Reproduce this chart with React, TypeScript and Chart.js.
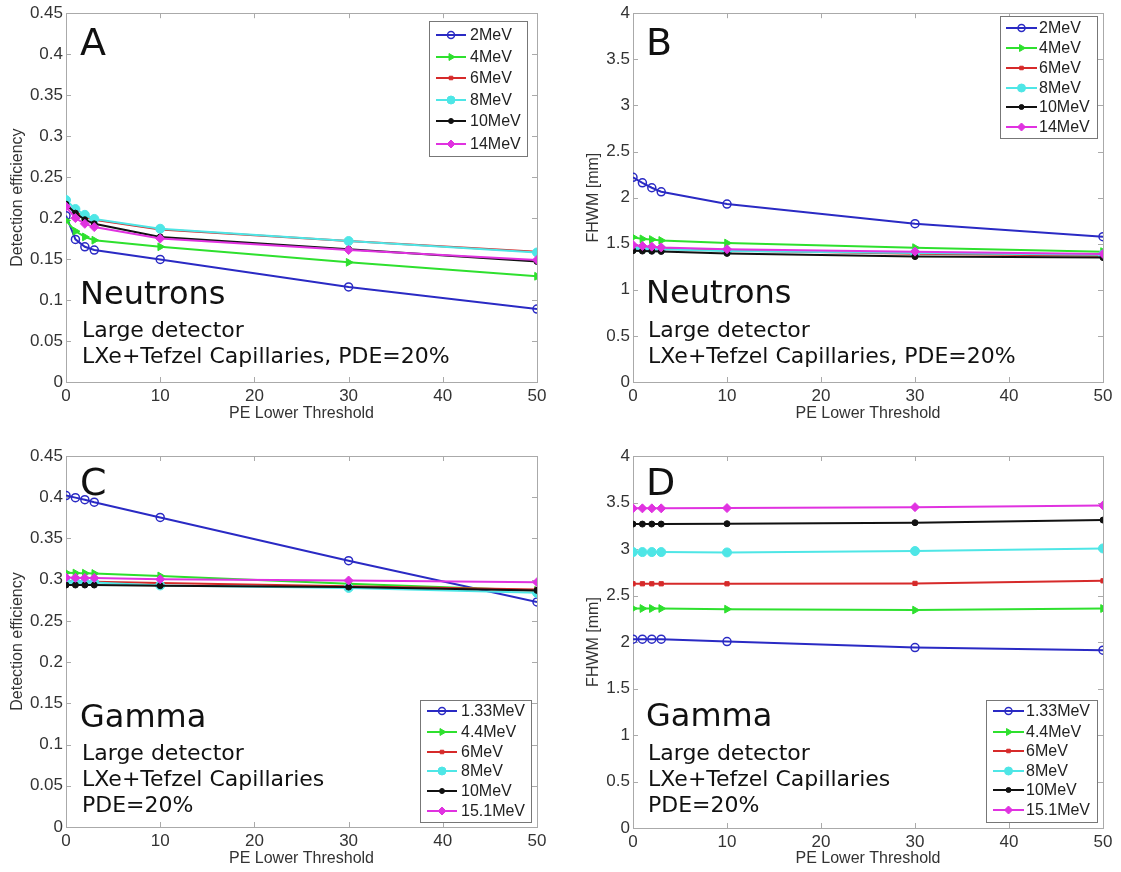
import React, { useEffect, useRef } from 'react';
import { Chart, registerables } from 'chart.js';
import { drawPoint } from 'chart.js/helpers';

Chart.register(...registerables);

// ---------- data ----------
const thresholds = [0, 1, 2, 3, 10, 30, 50];

const neutronLabels = ['2MeV', '4MeV', '6MeV', '8MeV', '10MeV', '14MeV'];
const gammaLabels = ['1.33MeV', '4.4MeV', '6MeV', '8MeV', '10MeV', '15.1MeV'];

// A: neutron detection efficiency
const effN2 = [0.203, 0.174, 0.165, 0.161, 0.1495, 0.116, 0.089];
const effN4 = [0.197, 0.184, 0.177, 0.173, 0.165, 0.146, 0.129];
const effN6 = [0.216, 0.207, 0.202, 0.198, 0.186, 0.172, 0.159];
const effN8 = [0.222, 0.211, 0.204, 0.199, 0.187, 0.172, 0.158];
const effN10 = [0.217, 0.206, 0.198, 0.193, 0.177, 0.162, 0.147];
const effN14 = [0.214, 0.2, 0.193, 0.189, 0.175, 0.161, 0.149];

// B: neutron FWHM [mm]
const fwhmN2 = [2.22, 2.16, 2.107, 2.063, 1.93, 1.717, 1.576];
const fwhmN4 = [1.57, 1.552, 1.545, 1.535, 1.507, 1.457, 1.414];
const fwhmN6 = [1.46, 1.455, 1.45, 1.445, 1.425, 1.39, 1.37];
const fwhmN8 = [1.45, 1.445, 1.44, 1.44, 1.42, 1.4, 1.38];
const fwhmN10 = [1.424, 1.42, 1.418, 1.416, 1.395, 1.36, 1.349];
const fwhmN14 = [1.486, 1.475, 1.468, 1.46, 1.44, 1.414, 1.389];

// C: gamma detection efficiency
const effG133 = [0.402, 0.3995, 0.397, 0.394, 0.3755, 0.323, 0.273];
const effG44 = [0.3085, 0.308, 0.3078, 0.3075, 0.3045, 0.295, 0.287];
const effG6 = [0.298, 0.298, 0.2978, 0.2975, 0.296, 0.292, 0.288];
const effG8 = [0.297, 0.297, 0.2968, 0.2965, 0.293, 0.29, 0.284];
const effG10 = [0.2935, 0.2935, 0.2935, 0.2935, 0.2927, 0.291, 0.287];
const effG151 = [0.3025, 0.3022, 0.302, 0.302, 0.3005, 0.299, 0.297];

// D: gamma FWHM [mm]
const fwhmG133 = [2.03, 2.03, 2.03, 2.03, 2.005, 1.94, 1.912];
const fwhmG44 = [2.36, 2.36, 2.36, 2.36, 2.353, 2.343, 2.36];
const fwhmG6 = [2.626, 2.626, 2.626, 2.626, 2.626, 2.63, 2.658];
const fwhmG8 = [2.967, 2.967, 2.967, 2.967, 2.963, 2.978, 3.006];
const fwhmG10 = [3.268, 3.268, 3.268, 3.268, 3.272, 3.283, 3.311];
const fwhmG151 = [3.437, 3.437, 3.437, 3.437, 3.44, 3.45, 3.469];

const xTickStep = 10;
const xMax = 50;
const effMax = 0.45;
const effStep = 0.05;
const fwhmMax = 4;
const fwhmStep = 0.5;

// ---------- styles ----------
const seriesStyles = [
  { color: '#2a2ac4', pointStyle: 'circle', radius: 4, rotation: 0, hollow: true },
  { color: '#2ee02e', pointStyle: 'triangle', radius: 4.5, rotation: 90, hollow: false },
  { color: '#d62a2a', pointStyle: 'rect', radius: 3, rotation: 0, hollow: false },
  { color: '#4ee6e6', pointStyle: 'circle', radius: 4.5, rotation: 0, hollow: false },
  { color: '#111111', pointStyle: 'circle', radius: 3, rotation: 0, hollow: false },
  { color: '#e032e0', pointStyle: 'rectRot', radius: 4.5, rotation: 0, hollow: false },
];

const TICK_FONT = '"Liberation Sans", Arial, sans-serif';
const ANNO_FONT = '"DejaVu Sans", sans-serif';

type Panel = {
  left: number; top: number; width: number; height: number;
  area: { l: number; r: number; t: number; b: number };
  yMax: number; yStep: number; yTitle: string;
  yTitlePad: number; xTitlePad: number;
  series: number[][]; labels: string[];
  legend: { box: number[]; line: number[]; textX: number; rows: number[] };
  texts: { t: string; x: number; y: number; size: number }[];
};

const panels: Panel[] = [
  {
    left: 0, top: 0, width: 560, height: 436,
    area: { l: 66, r: 537, t: 13, b: 382 },
    yMax: effMax, yStep: effStep, yTitle: 'Detection efficiency', yTitlePad: 8, xTitlePad: 3,
    series: [effN2, effN4, effN6, effN8, effN10, effN14], labels: neutronLabels,
    legend: { box: [429, 21, 527, 156], line: [436, 466], textX: 470, rows: [35, 57, 78, 100, 121, 144] },
    texts: [
      { t: 'A', x: 80, y: 55, size: 38 },
      { t: 'Neutrons', x: 80, y: 304, size: 32 },
      { t: 'Large detector', x: 82, y: 337, size: 22 },
      { t: 'LXe+Tefzel Capillaries, PDE=20%', x: 82, y: 363, size: 22 },
    ],
  },
  {
    left: 560, top: 0, width: 561, height: 436,
    area: { l: 73, r: 543, t: 13, b: 382 },
    yMax: fwhmMax, yStep: fwhmStep, yTitle: 'FHWM [mm]', yTitlePad: 24, xTitlePad: 3,
    series: [fwhmN2, fwhmN4, fwhmN6, fwhmN8, fwhmN10, fwhmN14], labels: neutronLabels,
    legend: { box: [440, 16, 537, 138], line: [446, 477], textX: 479, rows: [28, 48, 68, 88, 107, 127] },
    texts: [
      { t: 'B', x: 86, y: 55, size: 38 },
      { t: 'Neutrons', x: 86, y: 303, size: 32 },
      { t: 'Large detector', x: 88, y: 337, size: 22 },
      { t: 'LXe+Tefzel Capillaries, PDE=20%', x: 88, y: 363, size: 22 },
    ],
  },
  {
    left: 0, top: 436, width: 560, height: 436,
    area: { l: 66, r: 537, t: 20, b: 391 },
    yMax: effMax, yStep: effStep, yTitle: 'Detection efficiency', yTitlePad: 8, xTitlePad: 3,
    series: [effG133, effG44, effG6, effG8, effG10, effG151], labels: gammaLabels,
    legend: { box: [420, 264, 531, 386], line: [427, 457], textX: 461, rows: [275, 296, 316, 335, 355, 375] },
    texts: [
      { t: 'C', x: 80, y: 59, size: 38 },
      { t: 'Gamma', x: 80, y: 291, size: 32 },
      { t: 'Large detector', x: 82, y: 324, size: 22 },
      { t: 'LXe+Tefzel Capillaries', x: 82, y: 350, size: 22 },
      { t: 'PDE=20%', x: 82, y: 376, size: 22 },
    ],
  },
  {
    left: 560, top: 436, width: 561, height: 436,
    area: { l: 73, r: 543, t: 20, b: 392 },
    yMax: fwhmMax, yStep: fwhmStep, yTitle: 'FHWM [mm]', yTitlePad: 24, xTitlePad: 4,
    series: [fwhmG133, fwhmG44, fwhmG6, fwhmG8, fwhmG10, fwhmG151], labels: gammaLabels,
    legend: { box: [426, 264, 537, 386], line: [433, 464], textX: 466, rows: [275, 296, 315, 335, 354, 374] },
    texts: [
      { t: 'D', x: 86, y: 59, size: 38 },
      { t: 'Gamma', x: 86, y: 290, size: 32 },
      { t: 'Large detector', x: 88, y: 324, size: 22 },
      { t: 'LXe+Tefzel Capillaries', x: 88, y: 350, size: 22 },
      { t: 'PDE=20%', x: 88, y: 376, size: 22 },
    ],
  },
];

const X_AXIS_H = 44;

function makePlugin(p: Panel) {
  return {
    id: 'decor',
    beforeDatasetsDraw(chart: any) {
      const { ctx, chartArea } = chart;
      const { left, right, top, bottom } = chartArea;
      ctx.save();
      ctx.strokeStyle = '#aaaaaa';
      ctx.lineWidth = 1;
      ctx.strokeRect(Math.round(left) + 0.5, Math.round(top) + 0.5, Math.round(right - left), Math.round(bottom - top));
      const tl = 5;
      ctx.beginPath();
      chart.scales.x.ticks.forEach((t: any) => {
        const px = Math.round(chart.scales.x.getPixelForValue(t.value)) + 0.5;
        ctx.moveTo(px, bottom); ctx.lineTo(px, bottom - tl);
        ctx.moveTo(px, top); ctx.lineTo(px, top + tl);
      });
      chart.scales.y.ticks.forEach((t: any) => {
        const py = Math.round(chart.scales.y.getPixelForValue(t.value)) + 0.5;
        ctx.moveTo(left, py); ctx.lineTo(left + tl, py);
        ctx.moveTo(right, py); ctx.lineTo(right - tl, py);
      });
      ctx.stroke();
      ctx.restore();
    },
    afterDraw(chart: any) {
      const { ctx } = chart;
      ctx.save();
      // annotations
      ctx.fillStyle = '#111111';
      ctx.textBaseline = 'alphabetic';
      ctx.textAlign = 'left';
      p.texts.forEach((tx) => {
        ctx.font = `${tx.size}px ${ANNO_FONT}`;
        ctx.fillText(tx.t, tx.x, tx.y);
      });
      // legend
      const [bx0, by0, bx1, by1] = p.legend.box;
      ctx.fillStyle = '#ffffff';
      ctx.fillRect(bx0, by0, bx1 - bx0, by1 - by0);
      ctx.strokeStyle = '#777777';
      ctx.lineWidth = 1;
      ctx.strokeRect(bx0 + 0.5, by0 + 0.5, bx1 - bx0, by1 - by0);
      chart.data.datasets.forEach((ds: any, i: number) => {
        const st = seriesStyles[i];
        const y = p.legend.rows[i];
        ctx.strokeStyle = st.color;
        ctx.lineWidth = 2;
        ctx.beginPath();
        ctx.moveTo(p.legend.line[0], y);
        ctx.lineTo(p.legend.line[1], y);
        ctx.stroke();
        ctx.fillStyle = st.hollow ? 'rgba(0,0,0,0)' : st.color;
        ctx.strokeStyle = st.color;
        ctx.lineWidth = st.hollow ? 1.5 : 1;
        drawPoint(ctx, { pointStyle: st.pointStyle, rotation: st.rotation, radius: st.radius - 0.5, borderWidth: ctx.lineWidth } as any,
          (p.legend.line[0] + p.legend.line[1]) / 2, y);
        ctx.fillStyle = '#222222';
        ctx.font = `16px ${TICK_FONT}`;
        ctx.textBaseline = 'middle';
        ctx.fillText(ds.label, p.legend.textX, y + 1);
      });
      ctx.restore();
    },
  };
}

function PanelChart({ p }: { p: Panel }) {
  const ref = useRef<HTMLCanvasElement | null>(null);
  useEffect(() => {
    if (!ref.current) return;
    const fmt = (v: any) => String(parseFloat(Number(v).toFixed(2)));
    const chart = new Chart(ref.current, {
      type: 'line',
      data: {
        datasets: p.series.map((s, i) => {
          const st = seriesStyles[i];
          return {
            label: p.labels[i],
            data: thresholds.map((x, j) => ({ x, y: s[j] })),
            borderColor: st.color,
            backgroundColor: st.color,
            borderWidth: 2,
            tension: 0,
            pointStyle: st.pointStyle as any,
            pointRadius: st.radius,
            pointHoverRadius: st.radius,
            pointRotation: st.rotation,
            pointBackgroundColor: st.hollow ? 'rgba(0,0,0,0)' : st.color,
            pointBorderColor: st.color,
            pointBorderWidth: st.hollow ? 1.5 : 1,
            order: 10 - i,
          } as any;
        }),
      },
      options: {
        animation: false,
        responsive: false,
        events: [],
        layout: {
          padding: {
            left: 0,
            top: p.area.t,
            right: p.width - p.area.r,
            bottom: p.height - p.area.b - X_AXIS_H,
          },
        },
        plugins: { legend: { display: false }, tooltip: { enabled: false } },
        scales: {
          x: {
            type: 'linear',
            min: 0,
            max: xMax,
            grid: { display: false, drawTicks: false },
            border: { display: false },
            ticks: {
              stepSize: xTickStep,
              color: '#333333',
              font: { family: TICK_FONT, size: 17 },
              padding: 4,
              maxRotation: 0,
              callback: fmt,
            },
            title: {
              display: true,
              text: 'PE Lower Threshold',
              color: '#333333',
              font: { family: TICK_FONT, size: 16 },
              padding: { top: 0, bottom: p.xTitlePad },
            },
            afterFit: (s: any) => { s.height = X_AXIS_H; },
          },
          y: {
            type: 'linear',
            min: 0,
            max: p.yMax,
            grid: { display: false, drawTicks: false },
            border: { display: false },
            ticks: {
              stepSize: p.yStep,
              color: '#333333',
              font: { family: TICK_FONT, size: 17 },
              padding: 3,
              callback: fmt,
            },
            title: {
              display: true,
              text: p.yTitle,
              color: '#333333',
              font: { family: TICK_FONT, size: 16 },
              padding: { top: p.yTitlePad, bottom: 0 },
            },
            afterFit: (s: any) => { s.width = p.area.l; },
          },
        },
      } as any,
      plugins: [makePlugin(p)],
    });
    return () => chart.destroy();
  }, [p]);
  return (
    <canvas
      ref={ref}
      width={p.width}
      height={p.height}
      style={{ position: 'absolute', left: p.left, top: p.top, width: p.width, height: p.height }}
    />
  );
}

export default function App() {
  return (
    <div style={{ position: 'absolute', left: 0, top: 0, width: 1121, height: 872, background: '#ffffff' }}>
      {panels.map((p, i) => (
        <PanelChart key={i} p={p} />
      ))}
    </div>
  );
}
